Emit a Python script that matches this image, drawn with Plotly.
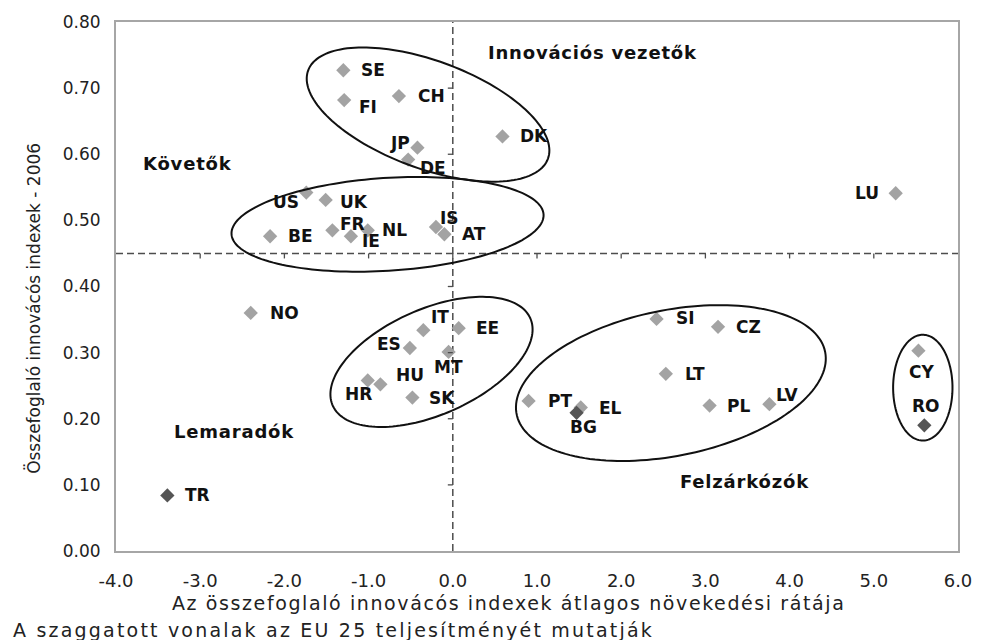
import numpy as np
import plotly.graph_objects as go

# ---------------- data ----------------
countries = ["SE", "FI", "CH", "JP", "DE", "DK", "US", "UK", "FR", "IE", "NL", "IS",
             "AT", "BE", "LU", "NO", "IT", "EE", "ES", "MT", "HU", "HR", "SK", "SI",
             "CZ", "LT", "PT", "EL", "BG", "PL", "LV", "CY", "RO", "TR"]
growth = [-1.30, -1.29, -0.64, -0.42, -0.53, 0.59, -1.74, -1.51, -1.43, -1.21, -1.01, -0.20,
          -0.10, -2.17, 5.26, -2.40, -0.35, 0.07, -0.51, -0.05, -0.86, -1.01, -0.48, 2.42,
          3.15, 2.53, 0.90, 1.52, 1.47, 3.05, 3.76, 5.53, 5.60, -3.39]
sii_2006 = [0.727, 0.682, 0.688, 0.610, 0.592, 0.627, 0.542, 0.531, 0.485, 0.476, 0.485, 0.490,
            0.479, 0.476, 0.541, 0.360, 0.334, 0.337, 0.307, 0.301, 0.252, 0.258, 0.232, 0.351,
            0.339, 0.268, 0.227, 0.217, 0.209, 0.220, 0.222, 0.303, 0.190, 0.084]
candidates = ["BG", "RO", "TR"]

eu25_growth = 0.0
eu25_sii = 0.45

x_tick_vals = [-4, -3, -2, -1, 0, 1, 2, 3, 4, 5, 6]
x_tick_text = ["-4.0", "-3.0", "-2.0", "-1.0", "0.0", "1.0", "2.0", "3.0", "4.0", "5.0", "6.0"]
y_tick_vals = [0.0, 0.1, 0.2, 0.3, 0.4, 0.5, 0.6, 0.7, 0.8]
y_tick_text = ["0.00", "0.10", "0.20", "0.30", "0.40", "0.50", "0.60", "0.70", "0.80"]

quadrant_names = ["Innovációs vezetők", "Követők", "Lemaradók", "Felzárkózók"]
x_title = "Az összefoglaló innovácós indexek átlagos növekedési rátája"
y_title = "Összefoglaló innovácós indexek - 2006"
footnote = "A szaggatott vonalak az EU 25 teljesítményét mutatják"

# ---------------- layout geometry ----------------
W, H = 984, 640
ML, MR, MT, MB = 116, 17, 21, 89
X_MIN, X_MAX = -4, 6
Y_MIN, Y_MAX = 0, 0.8
PX_X = (W - ML - MR) / (X_MAX - X_MIN)
PX_Y = (H - MT - MB) / (Y_MAX - Y_MIN)

# label placement: (anchor, dx px, dy px downward)
label_pos = {
    "SE": ("left", 16, 0), "FI": ("left", 13, 7), "CH": ("left", 17, 0),
    "JP": ("right", -5, -5), "DE": ("left", 10, 8), "DK": ("left", 16, 0),
    "US": ("right", -5, 9), "UK": ("left", 12, 2), "FR": ("left", 6, -6),
    "IE": ("left", 9, 5), "NL": ("left", 12, 0), "IS": ("left", 2, -9),
    "AT": ("left", 16, 0), "BE": ("left", 16, 0), "LU": ("right", -15, 0),
    "NO": ("left", 17, 0), "IT": ("left", 6, -13), "EE": ("left", 15, 0),
    "ES": ("right", -7, -4), "MT": ("center", 0, 15), "HU": ("left", 14, -9),
    "HR": ("center", -9, 14), "SK": ("left", 15, 0), "SI": ("left", 17, -1),
    "CZ": ("left", 16, 0), "LT": ("left", 17, 0), "PT": ("left", 17, 0),
    "EL": ("left", 16, 0), "BG": ("center", 7, 14), "PL": ("left", 15, 0),
    "LV": ("left", 5, -9), "CY": ("center", 3, 21), "RO": ("center", 2, -19),
    "TR": ("left", 16, 0),
}

# group ellipses: centre (data), semi-axes (px), rotation (deg, clockwise on screen)
ellipses = [
    (-0.294, 0.660, 129, 54, 20),
    (-0.775, 0.494, 158, 46.5, -3.6),
    (-0.253, 0.286, 109, 53, -23.5),
    (2.590, 0.254, 159, 73, -11.3),
    (5.582, 0.247, 30, 53, 0),
]

# quadrant label positions (data coords, left anchored)
quadrant_pos = [(0.394, 0.754), (-3.70, 0.586), (-3.34, 0.181), (2.67, 0.105)]


def ellipse_path(cx, cy, a, b, ang):
    t = np.linspace(0, 2 * np.pi, 160)
    th = np.radians(ang)
    dx = a * np.cos(t) * np.cos(th) - b * np.sin(t) * np.sin(th)
    dy = a * np.cos(t) * np.sin(th) + b * np.sin(t) * np.cos(th)
    xs = cx + dx / PX_X
    ys = cy - dy / PX_Y
    pts = [f"{x:.4f},{y:.5f}" for x, y in zip(xs, ys)]
    return "M " + " L ".join(pts) + " Z"


def spaced(txt, px):
    return f'<span style="letter-spacing:{px}px">{txt}</span>'


LABEL_FONT = dict(family="DejaVu Sans", size=17, color="#111111")

fig = go.Figure()

light_idx = [i for i, c in enumerate(countries) if c not in candidates]
dark_idx = [i for i, c in enumerate(countries) if c in candidates]

fig.add_trace(go.Scatter(
    x=[growth[i] for i in light_idx], y=[sii_2006[i] for i in light_idx],
    mode="markers", marker=dict(symbol="diamond", size=11, color="#a3a3a3"),
    text=[countries[i] for i in light_idx], showlegend=False, hoverinfo="text+x+y"))
fig.add_trace(go.Scatter(
    x=[growth[i] for i in dark_idx], y=[sii_2006[i] for i in dark_idx],
    mode="markers", marker=dict(symbol="diamond", size=11, color="#555555"),
    text=[countries[i] for i in dark_idx], showlegend=False, hoverinfo="text+x+y"))

shapes = []
dash_line = dict(color="#4d4d4d", width=1.5, dash="7px,4px")
shapes.append(dict(type="line", xref="x", yref="y", x0=eu25_growth, x1=eu25_growth,
                   y0=Y_MIN, y1=Y_MAX, line=dash_line, layer="below"))
shapes.append(dict(type="line", xref="x", yref="y", x0=X_MIN, x1=X_MAX,
                   y0=eu25_sii, y1=eu25_sii, line=dash_line, layer="below"))
for yv in y_tick_vals[1:-1]:
    shapes.append(dict(type="line", xref="x", yref="y", xsizemode="pixel", xanchor=eu25_growth,
                       x0=-5, x1=0, y0=yv, y1=yv, line=dict(color="#4d4d4d", width=1.3)))
for xv in x_tick_vals[1:-1]:
    shapes.append(dict(type="line", xref="x", yref="y", ysizemode="pixel", yanchor=eu25_sii,
                       y0=-5, y1=0, x0=xv, x1=xv, line=dict(color="#4d4d4d", width=1.3)))
for cx, cy, a, b, ang in ellipses:
    shapes.append(dict(type="path", xref="x", yref="y", path=ellipse_path(cx, cy, a, b, ang),
                       line=dict(color="#111111", width=2)))

annotations = []
for c, gx, gy in zip(countries, growth, sii_2006):
    anc, dx, dy = label_pos[c]
    annotations.append(dict(x=gx, y=gy, xref="x", yref="y", text=f"<b>{c}</b>", showarrow=False,
                            xanchor=anc, yanchor="middle", xshift=dx, yshift=-dy,
                            font=LABEL_FONT))
for name, (qx, qy) in zip(quadrant_names, quadrant_pos):
    annotations.append(dict(x=qx, y=qy, xref="x", yref="y", text=f"<b>{spaced(name, 0.8)}</b>",
                            showarrow=False, xanchor="left", yanchor="middle",
                            font=dict(family="DejaVu Sans", size=18, color="#111111")))

annotations.append(dict(x=-3.355, y=0, xref="x", yref="paper", text=spaced(x_title, 1.6),
                        showarrow=False, xanchor="left", yanchor="middle", yshift=-51.5,
                        font=dict(family="DejaVu Sans", size=19, color="#222222")))
annotations.append(dict(x=(10 - ML) / (W - ML - MR), y=0, xref="paper", yref="paper",
                        text=spaced(footnote, 2.2), showarrow=False, xanchor="left",
                        yanchor="middle", yshift=-78.5,
                        font=dict(family="DejaVu Sans", size=19, color="#222222")))
annotations.append(dict(x=(33 - ML) / (W - ML - MR), y=0.3675, xref="paper", yref="y",
                        text=y_title, showarrow=False, textangle=-90, xanchor="center",
                        yanchor="middle", font=dict(family="DejaVu Sans", size=17, color="#222222")))

axis_common = dict(showgrid=False, zeroline=False, showline=True, linecolor="#a6a6a6",
                   linewidth=2, mirror=True, ticks="")

fig.update_layout(
    width=W, height=H,
    margin=dict(l=ML, r=MR, t=MT, b=MB),
    paper_bgcolor="white", plot_bgcolor="white",
    shapes=shapes, annotations=annotations,
    xaxis=dict(range=[X_MIN, X_MAX], tickvals=x_tick_vals, ticktext=x_tick_text,
               ticklabelstandoff=12,
               tickfont=dict(family="DejaVu Sans", size=18, color="#222222"), **axis_common),
    yaxis=dict(range=[Y_MIN, Y_MAX], tickvals=y_tick_vals, ticktext=y_tick_text,
               ticklabelstandoff=10,
               tickfont=dict(family="DejaVu Sans", size=17, color="#222222"), **axis_common),
)

fig.write_html("out.html", config={"displayModeBar": False},
               post_script="document.body.style.margin='0';document.body.style.overflow='hidden';")
